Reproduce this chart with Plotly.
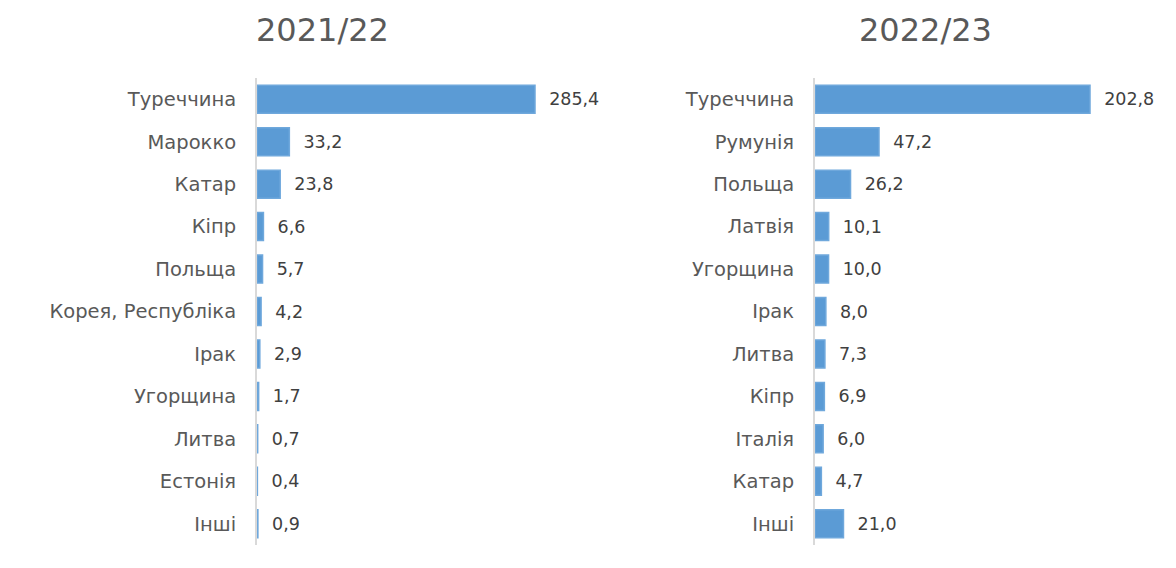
import plotly.graph_objects as go

cats_2122 = ["Туреччина", "Марокко", "Катар", "Кіпр", "Польща", "Корея, Республіка",
             "Ірак", "Угорщина", "Литва", "Естонія", "Інші"]
vals_2122 = [285.4, 33.2, 23.8, 6.6, 5.7, 4.2, 2.9, 1.7, 0.7, 0.4, 0.9]

cats_2223 = ["Туреччина", "Румунія", "Польща", "Латвія", "Угорщина", "Ірак",
             "Литва", "Кіпр", "Італія", "Катар", "Інші"]
vals_2223 = [202.8, 47.2, 26.2, 10.1, 10.0, 8.0, 7.3, 6.9, 6.0, 4.7, 21.0]

titles = ["2021/22", "2022/23"]

OFF = 8  # default page body margin
W, H = 1176 - 2 * OFF, 568 - 2 * OFF
BAR = "#5B9BD5"
FONT = "DejaVu Sans"


def px(x):
    return (x - OFF) / W


def py(y):
    return 1 - (y - OFF) / H


def fmt(v):
    return "\u00a0\u00a0" + f"{v:.1f}".replace(".", ",")


fig = go.Figure()
fig.add_trace(go.Bar(x=vals_2122, y=cats_2122, orientation="h", xaxis="x", yaxis="y",
                     marker=dict(color=BAR, line=dict(color="#6FA8DC", width=1.5)),
                     text=[fmt(v) for v in vals_2122], textposition="outside",
                     textfont=dict(family=FONT, size=17.5, color="#404040"),
                     cliponaxis=False, hoverinfo="x+y"))
fig.add_trace(go.Bar(x=vals_2223, y=cats_2223, orientation="h", xaxis="x2", yaxis="y2",
                     marker=dict(color=BAR, line=dict(color="#6FA8DC", width=1.5)),
                     text=[fmt(v) for v in vals_2223], textposition="outside",
                     textfont=dict(family=FONT, size=17.5, color="#404040"),
                     cliponaxis=False, hoverinfo="x+y"))

ydom = [py(545), py(78)]
x1dom = [px(257), px(600)]
x2dom = [px(815), px(1168)]
s1 = 278 / 285.4
s2 = 275 / 202.8

common_x = dict(showgrid=False, zeroline=False, showline=False, showticklabels=False, ticks="")
common_y = dict(showgrid=False, zeroline=False, showline=True, linecolor="#D9D9D9", linewidth=2,
                ticks="outside", ticklen=0, ticklabelstandoff=15, autorange="reversed",
                tickfont=dict(family=FONT, size=19.5, color="#595959"))

fig.update_layout(
    width=W, height=H,
    margin=dict(l=0, r=0, t=0, b=0),
    paper_bgcolor="white", plot_bgcolor="white",
    showlegend=False, bargap=0.34,
    xaxis=dict(domain=x1dom, range=[0, (600 - 257) / s1], anchor="y", **common_x),
    yaxis=dict(domain=ydom, anchor="x", **common_y),
    xaxis2=dict(domain=x2dom, range=[0, (1168 - 815) / s2], anchor="y2", **common_x),
    yaxis2=dict(domain=ydom, anchor="x2", **common_y),
    annotations=[
        dict(text=titles[0], x=px(322), y=py(30), xref="paper", yref="paper",
             showarrow=False, xanchor="center", yanchor="middle",
             font=dict(family=FONT, size=32, color="#595959")),
        dict(text=titles[1], x=px(925), y=py(30), xref="paper", yref="paper",
             showarrow=False, xanchor="center", yanchor="middle",
             font=dict(family=FONT, size=32, color="#595959")),
    ],
)

fig.write_html("out.html")
